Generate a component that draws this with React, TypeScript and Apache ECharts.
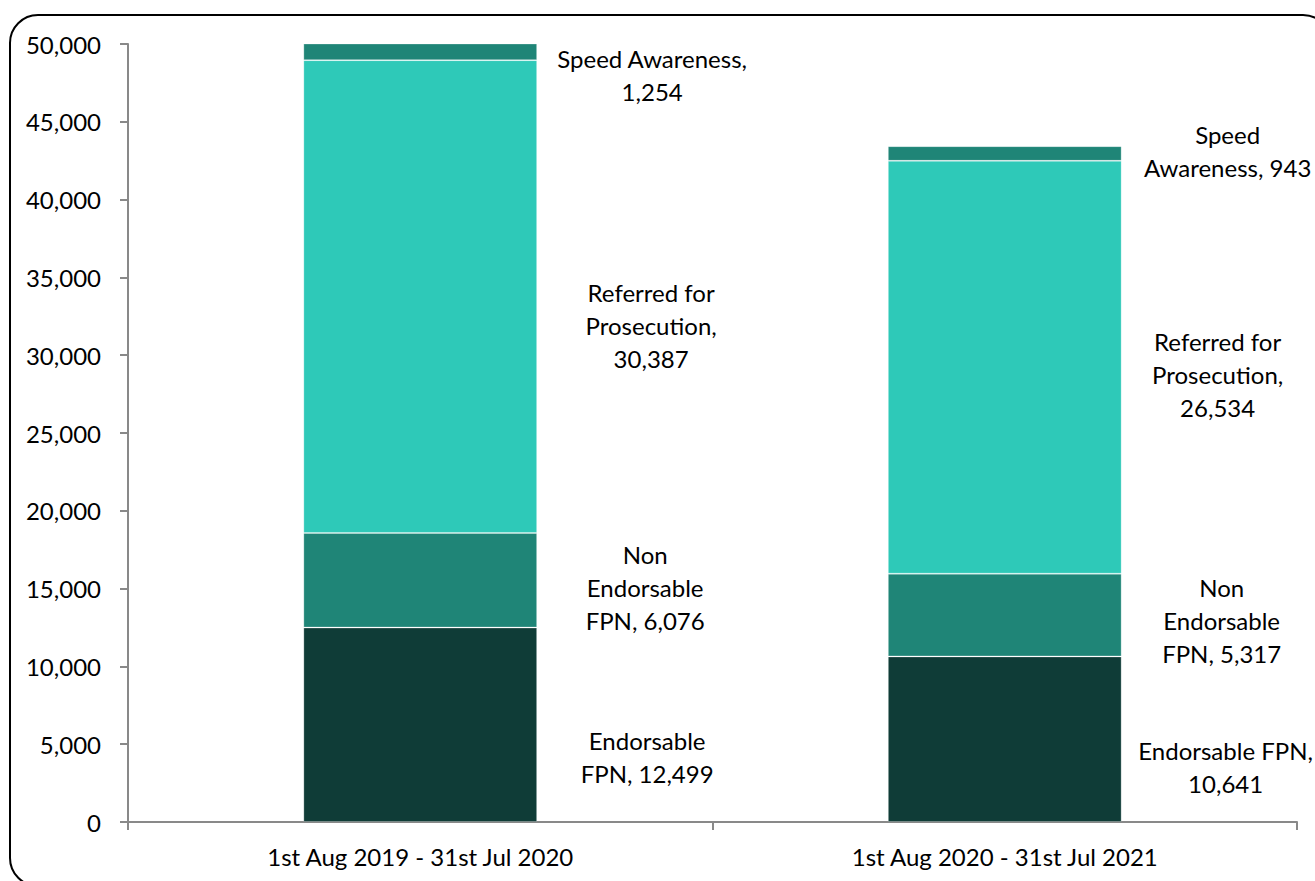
import React, { useEffect, useRef } from "react";
import * as echarts from "echarts";

const categories = ["1st Aug 2019 - 31st Jul 2020", "1st Aug 2020 - 31st Jul 2021"];
const seriesNames = ["Endorsable FPN", "Non Endorsable FPN", "Referred for Prosecution", "Speed Awareness"];
const endorsable = [12499, 10641];
const nonEndorsable = [6076, 5317];
const referred = [30387, 26534];
const speedAwareness = [1254, 943];
const yTicks = { min: 0, max: 50000, interval: 5000 };

// words per label line, per series and category
const lineBreaks = [
  [[1, 2], [2, 1]],
  [[1, 1, 2], [1, 1, 2]],
  [[2, 1, 1], [2, 1, 1]],
  [[2, 1], [1, 2]],
];
// label offsets [dx, dy] from right edge of bar segment
const labelOffsets = [
  [[110, 32], [104, 28]],
  [[108, 7], [100, 5]],
  [[114, 29], [96, 7]],
  [[115, 23], [106, -2]],
];
const colors = ["#0f3c37", "#1f8577", "#2ec9b8", "#1f8577"];

const fmt = (v: number) => v.toLocaleString("en-US");

function wrap(name: string, value: number, breaks: number[]) {
  const words = (name + ", " + fmt(value)).split(" ");
  const lines: string[] = [];
  let i = 0;
  for (const n of breaks) {
    lines.push(words.slice(i, i + n).join(" "));
    i += n;
  }
  if (i < words.length) lines.push(words.slice(i).join(" "));
  return lines.join("\n");
}

const FONT = "Lato";

export default function App() {
  const ref = useRef<HTMLDivElement>(null);
  useEffect(() => {
    if (!ref.current) return;
    const chart = echarts.init(ref.current, undefined, { renderer: "svg" });
    const allData = [endorsable, nonEndorsable, referred, speedAwareness];
    const series = allData.map((arr, si) => ({
      name: seriesNames[si],
      type: "bar",
      stack: "total",
      barWidth: "40%",
      itemStyle: { color: colors[si], borderColor: "rgba(255,255,255,0.25)", borderWidth: 1 },
      data: arr.map((v, ci) => ({
        value: v,
        label: {
          show: true,
          position: "right",
          distance: 0,
          align: "center",
          verticalAlign: "middle",
          offset: labelOffsets[si][ci],
          fontFamily: FONT,
          fontSize: 24,
          lineHeight: 33,
          color: "#000",
          formatter: () => wrap(seriesNames[si], v, lineBreaks[si][ci]),
        },
      })),
    }));
    chart.setOption({
      animation: false,
      backgroundColor: "#fff",
      textStyle: { fontFamily: FONT },
      graphic: [
        {
          type: "rect",
          shape: { x: 10, y: 15, width: 1321, height: 871, r: 28 },
          style: { fill: "none", stroke: "#000", lineWidth: 2 },
          silent: true,
          z: 100,
        },
      ],
      grid: { left: 128, right: 18, top: 44, bottom: 59, containLabel: false },
      xAxis: {
        type: "category",
        data: categories,
        axisLine: { lineStyle: { color: "#898989", width: 2 } },
        axisTick: { show: true, length: 8, lineStyle: { color: "#898989", width: 2 } },
        axisLabel: { color: "#000", fontSize: 24, fontFamily: FONT, margin: 22 },
      },
      yAxis: {
        type: "value",
        min: yTicks.min,
        max: yTicks.max,
        interval: yTicks.interval,
        splitLine: { show: false },
        axisLine: { show: true, lineStyle: { color: "#898989", width: 2 } },
        axisTick: { show: true, length: 8, lineStyle: { color: "#898989", width: 2 } },
        axisLabel: { color: "#000", fontSize: 24, fontFamily: FONT, margin: 27, formatter: (v: number) => fmt(v) },
      },
      series,
    });
    return () => chart.dispose();
  }, []);
  return <div ref={ref} style={{ position: "fixed", left: 0, top: 0, width: 1315, height: 881 }} />;
}
